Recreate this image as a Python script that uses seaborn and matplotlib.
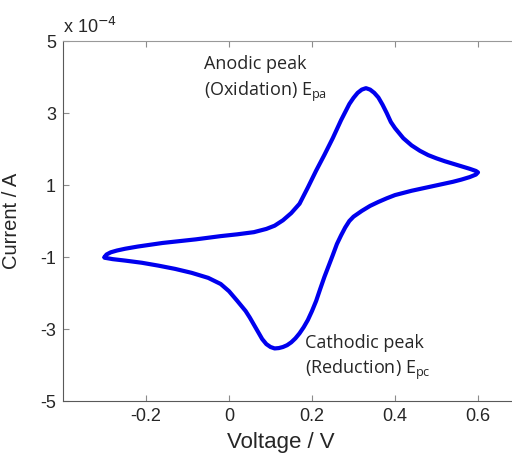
import numpy as np
import pandas as pd
import seaborn as sns
import matplotlib.pyplot as plt

# forward scan (oxidation), voltage in V, current in units of 1e-4 A
fwd_voltage = [-0.300, -0.295, -0.285, -0.27, -0.25, -0.22, -0.19, -0.16, -0.12, -0.08,
               -0.04, -0.02, 0.02, 0.06, 0.09, 0.11, 0.13, 0.15, 0.17, 0.19,
               0.21, 0.23, 0.25, 0.27, 0.29, 0.30, 0.31, 0.32, 0.33, 0.34,
               0.35, 0.36, 0.37, 0.38, 0.39, 0.40, 0.42, 0.44, 0.46, 0.48,
               0.50, 0.52, 0.54, 0.56, 0.58, 0.595, 0.60]
fwd_current = [-1.00, -0.93, -0.87, -0.82, -0.77, -0.71, -0.66, -0.61, -0.56, -0.51,
               -0.45, -0.42, -0.37, -0.31, -0.22, -0.13, 0.02, 0.22, 0.48, 0.93,
               1.40, 1.84, 2.30, 2.80, 3.25, 3.42, 3.56, 3.65, 3.69, 3.65,
               3.56, 3.43, 3.23, 3.00, 2.75, 2.58, 2.30, 2.10, 1.95, 1.83,
               1.74, 1.66, 1.59, 1.52, 1.45, 1.39, 1.35]

# reverse scan (reduction)
rev_voltage = [0.60, 0.595, 0.58, 0.56, 0.54, 0.52, 0.50, 0.48, 0.46, 0.44,
               0.42, 0.40, 0.38, 0.36, 0.34, 0.32, 0.30, 0.29, 0.28, 0.27,
               0.26, 0.25, 0.24, 0.23, 0.22, 0.21, 0.20, 0.19, 0.18, 0.17,
               0.16, 0.15, 0.14, 0.13, 0.12, 0.11, 0.10, 0.09, 0.08, 0.07,
               0.06, 0.05, 0.04, 0.02, 0.00, -0.02, -0.05, -0.09, -0.13, -0.17,
               -0.21, -0.25, -0.28, -0.30]
rev_current = [1.35, 1.29, 1.22, 1.15, 1.09, 1.04, 0.99, 0.94, 0.89, 0.84,
               0.78, 0.72, 0.63, 0.53, 0.42, 0.28, 0.12, 0.00, -0.18, -0.40,
               -0.64, -0.95, -1.25, -1.55, -1.88, -2.22, -2.50, -2.75, -2.95, -3.12,
               -3.26, -3.37, -3.45, -3.50, -3.53, -3.54, -3.50, -3.42, -3.28, -3.08,
               -2.88, -2.68, -2.50, -2.22, -1.95, -1.75, -1.58, -1.44, -1.33, -1.24,
               -1.16, -1.10, -1.06, -1.02]

y_ticks = [-5, -3, -1, 1, 3, 5]
x_ticks = [-0.2, 0, 0.2, 0.4, 0.6]
x_tick_labels = ['-0.2', '0', '0.2', '0.4', '0.6']

scan = pd.DataFrame({
    'voltage': fwd_voltage + rev_voltage,
    'current': fwd_current + rev_current,
})

sns.set_style('ticks')
plt.rcParams['font.family'] = ['Liberation Sans', 'DejaVu Sans']

fig = plt.figure(figsize=(5.12, 4.54), dpi=100)
# the plot box runs off the right edge of the picture, as in the reference crop
ax = fig.add_axes([63 / 512, 53 / 454, 449 / 512, 360 / 454])

sns.lineplot(data=scan, x='voltage', y='current', sort=False, estimator=None,
             color='#0000ee', linewidth=3.0, ax=ax,
             solid_joinstyle='round', solid_capstyle='round')

ax.set_xlim(-0.4, -0.4 + 449 * 0.2 / 83)
ax.set_ylim(-5, 5)
ax.set_xticks(x_ticks)
ax.set_xticklabels(x_tick_labels)
ax.set_yticks(y_ticks)
ax.set_yticklabels([str(t) for t in y_ticks])
ax.tick_params(direction='in', length=4, width=0.8, color='0.55', labelsize=13,
               top=True, right=False, pad=5)
ax.spines['right'].set_visible(False)
for side in ['left', 'bottom']:
    ax.spines[side].set_color('0.35')
ax.spines['top'].set_color('0.6')

ax.set_xlabel('Voltage / V', fontsize=16)
ax.set_ylabel('Current / A', fontsize=14.5)
ax.xaxis.set_label_coords((281 - 63) / 449, -0.085)
ax.yaxis.set_label_coords(-0.093, 0.5)

ax.text(0.0, 1.012, 'x 10$^{-4}$', transform=ax.transAxes, fontsize=13,
        ha='left', va='bottom')

ann_font = ['Open Sans', 'DejaVu Sans']
ax.text(-0.06, 4.36, 'Anodic peak', fontsize=13, family=ann_font, va='center', color='0.15')
ax.text(-0.06, 3.58, '(Oxidation) E$_{\\mathregular{pa}}$', fontsize=13, family=ann_font,
        va='center', color='0.15')
ax.text(0.183, -3.39, 'Cathodic peak', fontsize=13, family=ann_font, va='center', color='0.15')
ax.text(0.183, -4.14, '(Reduction) E$_{\\mathregular{pc}}$', fontsize=13, family=ann_font,
        va='center', color='0.15')

fig.savefig('out.png', dpi=100)
